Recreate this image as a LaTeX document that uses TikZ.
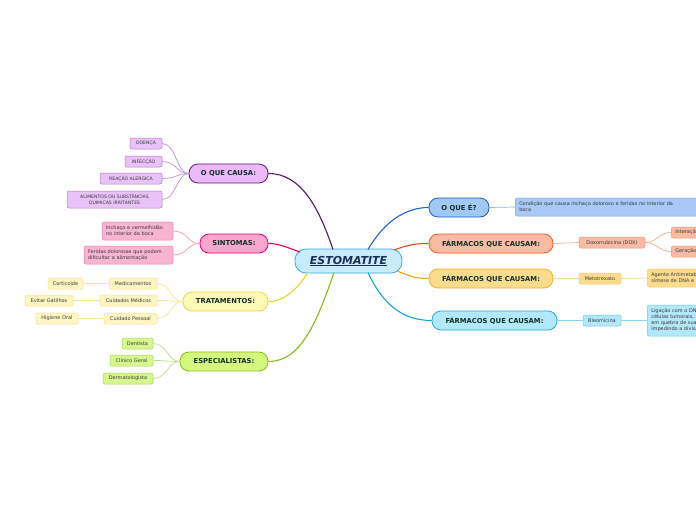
\documentclass[tikz,border=0pt]{standalone}
\usepackage{fontspec}
\setmainfont{DejaVu Sans}
\definecolor{cenfill}{HTML}{C9ECFC}\definecolor{cenline}{HTML}{3AA8E0}\definecolor{centext}{HTML}{1B2D5C}
\definecolor{btext}{HTML}{12302A}\definecolor{ltext}{HTML}{3A3A3A}
\definecolor{pufill}{HTML}{EBB9F8}\definecolor{puline}{HTML}{5C1A6C}\definecolor{pulfill}{HTML}{E8C2F8}\definecolor{pulline}{HTML}{B777CC}\definecolor{puconn}{HTML}{5A1468}\definecolor{pulconn}{HTML}{C490D4}
\definecolor{pifill}{HTML}{F9A6CF}\definecolor{piline}{HTML}{E6007A}\definecolor{pilfill}{HTML}{F9B3D3}\definecolor{pilline}{HTML}{F07CB0}\definecolor{piconn}{HTML}{E6005C}\definecolor{pilconn}{HTML}{F896C4}
\definecolor{yefill}{HTML}{FFF9B8}\definecolor{yeline}{HTML}{ECD73C}\definecolor{yelfill}{HTML}{FFF6C4}\definecolor{yelline}{HTML}{F0E08A}\definecolor{yeconn}{HTML}{F2D41E}\definecolor{yelconn}{HTML}{F5E690}
\definecolor{grfill}{HTML}{D6F77E}\definecolor{grline}{HTML}{8AB81C}\definecolor{grlfill}{HTML}{D6F78E}\definecolor{grlline}{HTML}{A9D15F}\definecolor{grconn}{HTML}{8AB81C}\definecolor{grlconn}{HTML}{BEDD88}
\definecolor{blfill}{HTML}{A2C8F6}\definecolor{blline}{HTML}{1E5CCC}\definecolor{bllfill}{HTML}{A8C9F7}\definecolor{bllline}{HTML}{7AA3E5}\definecolor{blconn}{HTML}{1F64D6}\definecolor{bllconn}{HTML}{8FB2EC}
\definecolor{orfill}{HTML}{F9BBA4}\definecolor{orline}{HTML}{F25A26}\definecolor{orlline}{HTML}{F2957A}\definecolor{orconn}{HTML}{F2480F}\definecolor{orlconn}{HTML}{F5A88E}
\definecolor{gofill}{HTML}{FDDB8D}\definecolor{goline}{HTML}{F2B32A}\definecolor{golline}{HTML}{F5C96A}\definecolor{goconn}{HTML}{F2A612}\definecolor{golconn}{HTML}{F8D68A}
\definecolor{cyfill}{HTML}{B3E8FB}\definecolor{cyline}{HTML}{27AAE2}\definecolor{cylline}{HTML}{6CC8EE}\definecolor{cyconn}{HTML}{14A4E0}\definecolor{cylconn}{HTML}{88D4F2}
\tikzset{
  branch/.style={draw, line width=0.8pt, rounded corners=9pt, inner sep=0pt, minimum height=19pt, text=btext, font=\fontsize{6.8}{8}\selectfont\bfseries},
  leaf/.style={draw, line width=0.5pt, rounded corners=2pt, inner sep=0pt, minimum height=11pt, text=ltext, align=center, font=\fontsize{5}{6}\selectfont},
  capleaf/.style={leaf, font=\fontsize{4.6}{5.4}\selectfont},
  mainconn/.style={line width=1.1pt},
  subconn/.style={line width=0.7pt},
}
\begin{document}
\begin{tikzpicture}[x=1pt,y=-1pt]
\useasboundingbox (0,0) rectangle (696,520);
\fill[white] (0,0) rectangle (696,520);
\clip (0,0) rectangle (696,520);

% central
\node[draw=cenline, fill=cenfill, line width=0.8pt, rounded corners=11pt, minimum width=107pt, minimum height=24pt, inner sep=0pt, text=centext, font=\fontsize{11}{12}\selectfont\bfseries\itshape] (c) at (348.5,261) {\underline{ESTOMATITE}};
\coordinate (c1) at (333,249.5);
\coordinate (c2) at (300,252);
\coordinate (c3) at (308,272.5);
\coordinate (c4) at (334,272.5);
\coordinate (c5) at (368,249.5);
\coordinate (c6) at (394,250);
\coordinate (c7) at (397,271);
\coordinate (c8) at (368,272.5);

% main branches
\node[branch, draw=puline, fill=pufill, minimum width=79pt] (b1) at (228.5,173.5) {O QUE CAUSA:};
\node[branch, draw=piline, fill=pifill, minimum width=68pt] (b2) at (234,243.5) {SINTOMAS:};
\node[branch, draw=yeline, fill=yefill, minimum width=85pt] (b3) at (225.5,301.5) {TRATAMENTOS:};
\node[branch, draw=grline, fill=grfill, minimum width=88pt] (b4) at (224,361.5) {ESPECIALISTAS:};
\node[branch, draw=blline, fill=blfill, minimum width=60pt] (b5) at (459,207.5) {O QUE É?};
\node[branch, draw=orline, fill=orfill, minimum width=124pt] (b6) at (491,243.5) {FÁRMACOS QUE CAUSAM:};
\node[branch, draw=goline, fill=gofill, minimum width=124pt] (b7) at (491,278.5) {FÁRMACOS QUE CAUSAM:};
\node[branch, draw=cyline, fill=cyfill, minimum width=125pt] (b8) at (494.5,320.5) {FÁRMACOS QUE CAUSAM:};

\draw[mainconn, puconn] (c1) .. controls (318,205) and (300,173.5) .. (b1.east);
\draw[mainconn, piconn] (c2) .. controls (288,248) and (280,243.5) .. (b2.east);
\draw[mainconn, yeconn] (c3) .. controls (298,288) and (285,301.5) .. (b3.east);
\draw[mainconn, grconn] (c4) .. controls (316,325) and (300,361.5) .. (b4.east);
\draw[mainconn, blconn] (c5) .. controls (384,222) and (405,207.5) .. (b5.west);
\draw[mainconn, orconn] (c6) .. controls (408,245) and (415,243.5) .. (b6.west);
\draw[mainconn, goconn] (c7) .. controls (410,276) and (415,278.5) .. (b7.west);
\draw[mainconn, cyconn] (c8) .. controls (384,307) and (405,320.5) .. (b8.west);

% O QUE CAUSA leaves
\node[capleaf, draw=pulline, fill=pulfill, minimum width=32pt] (p1) at (146,143.5) {DOENÇA};
\node[capleaf, draw=pulline, fill=pulfill, minimum width=37pt] (p2) at (143.5,161.5) {INFECÇÃO};
\node[capleaf, draw=pulline, fill=pulfill, minimum width=62pt] (p3) at (131,178.5) {REAÇÃO ALERGICA};
\node[capleaf, draw=pulline, fill=pulfill, minimum width=95pt, minimum height=17pt] (p4) at (114.5,199.5) {ALIMENTOS OU SUBSTÂNCIAS\\QUIMICAS IRRITANTES};
\foreach \n in {p1,p2,p3,p4}
  \draw[subconn, pulconn] (\n.east) .. controls +(14,0) and +(-12,0) .. (b1.west);

% SINTOMAS leaves
\node[leaf, draw=pilline, fill=pilfill, text width=63pt, inner xsep=4pt, minimum height=18pt, align=left] (s1) at (137.5,231) {Inchaço e vermelhidão\\no interior da boca};
\node[leaf, draw=pilline, fill=pilfill, text width=81pt, inner xsep=4pt, minimum height=18pt, align=left] (s2) at (128.5,255) {Feridas dolorosas que podem\\dificultar a alimentação};
\foreach \n in {s1,s2}
  \draw[subconn, pilconn] (\n.east) .. controls +(14,0) and +(-12,0) .. (b2.west);

% TRATAMENTOS leaves
\node[leaf, draw=yelline, fill=yelfill, minimum width=48pt] (t1) at (133,283.5) {Medicamentos};
\node[leaf, draw=yelline, fill=yelfill, minimum width=57pt] (t2) at (128.5,300.5) {Cuidados Médicos};
\node[leaf, draw=yelline, fill=yelfill, minimum width=53pt] (t3) at (130.5,318.5) {Cuidado Pessoal};
\node[leaf, draw=yelline, fill=yelfill, minimum width=35pt] (t4) at (65.5,283.5) {Corticoide};
\node[leaf, draw=yelline, fill=yelfill, minimum width=48pt] (t5) at (49,300.5) {Evitar Gatilhos};
\node[leaf, draw=yelline, fill=yelfill, minimum width=42pt] (t6) at (57,318.5) {Higiene Oral};
\foreach \n in {t1,t2,t3}
  \draw[subconn, yelconn] (\n.east) .. controls +(14,0) and +(-12,0) .. (b3.west);
\draw[subconn, yelconn] (t4.east) -- (t1.west);
\draw[subconn, yelconn] (t5.east) -- (t2.west);
\draw[subconn, yelconn] (t6.east) -- (t3.west);

% ESPECIALISTAS leaves
\node[leaf, draw=grlline, fill=grlfill, minimum width=31pt] (e1) at (137.5,343.5) {Dentista};
\node[leaf, draw=grlline, fill=grlfill, minimum width=43pt] (e2) at (131.5,360.5) {Clínico Geral};
\node[leaf, draw=grlline, fill=grlfill, minimum width=50pt] (e3) at (128,378.5) {Dermatologista};
\foreach \n in {e1,e2,e3}
  \draw[subconn, grlconn] (\n.east) .. controls +(14,0) and +(-12,0) .. (b4.west);

% O QUE E leaf
\node[leaf, draw=bllline, fill=bllfill, anchor=west, align=left, text width=178pt, inner xsep=4pt, minimum height=18pt] (q1) at (515,207) {Condição que causa inchaço doloroso e feridas no interior da\\boca};
\draw[subconn, bllconn] (b5.east) -- (q1.west);

% Farmacos 1
\node[leaf, draw=orlline, fill=orfill, minimum width=66pt] (f1) at (612,242.5) {Doxorrubicina (DOX)};
\node[leaf, draw=orlline, fill=orfill, anchor=west, align=left, inner xsep=4pt] (f1a) at (671,232.5) {Interação com o DNA};
\node[leaf, draw=orlline, fill=orfill, anchor=west, align=left, inner xsep=4pt] (f1b) at (671,251.5) {Geração de radicais livres};
\draw[subconn, orlconn] (b6.east) -- (f1.west);
\draw[subconn, orlconn] (f1.east) .. controls +(12,0) and +(-12,0) .. (f1a.west);
\draw[subconn, orlconn] (f1.east) .. controls +(12,0) and +(-12,0) .. (f1b.west);

% Farmacos 2
\node[leaf, draw=golline, fill=gofill, minimum width=42pt] (f2) at (600,278.5) {Metotrexato};
\node[leaf, draw=golline, fill=gofill, anchor=west, align=left, inner xsep=4pt, minimum height=18pt] (f2a) at (647,278) {Agente Antimetabólito que inibe a\\síntese de DNA e RNA};
\draw[subconn, golconn] (b7.east) -- (f2.west);
\draw[subconn, golconn] (f2.east) -- (f2a.west);

% Farmacos 3
\node[leaf, draw=cylline, fill=cyfill, minimum width=38pt] (f3) at (602,320.5) {Bleomicina};
\node[leaf, draw=cylline, fill=cyfill, anchor=west, align=left, inner xsep=4pt, minimum height=31pt] (f3a) at (647,320.5) {Ligação com o DNA das\\células tumorais, resultando\\em quebra de sua fita,\\impedindo a divisão celular};
\draw[subconn, cylconn] (b8.east) -- (f3.west);
\draw[subconn, cylconn] (f3.east) -- (f3a.west);
\end{tikzpicture}
\end{document}
